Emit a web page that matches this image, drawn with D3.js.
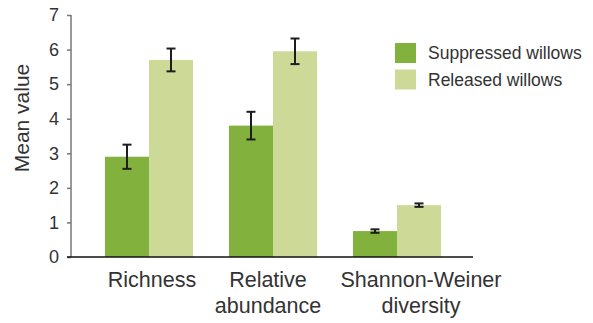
<!DOCTYPE html>
<html>
<head>
<meta charset="utf-8">
<script src="https://cdn.jsdelivr.net/npm/d3@7"></script>
<style>
  html, body { margin: 0; padding: 0; background: #fff; }
  svg { display: block; font-family: "Liberation Sans", Arial, sans-serif; }
</style>
</head>
<body>
<svg id="chart" width="593" height="323"></svg>
<script>
// Categories (multi-line labels) and series
const categories = ["Richness", "Relative abundance", "Shannon-Weiner diversity"];
const categoryLines = [["Richness"], ["Relative", "abundance"], ["Shannon-Weiner", "diversity"]];
const seriesNames = ["Suppressed willows", "Released willows"];
const suppressedMean = [2.9, 3.8, 0.75];
const suppressedErr = [0.35, 0.4, 0.05];
const releasedMean = [5.7, 5.95, 1.5];
const releasedErr = [0.33, 0.37, 0.05];
const yTicks = [0, 1, 2, 3, 4, 5, 6, 7];
const colors = ["#82b23d", "#cdd997"];

const series = [
  { name: seriesNames[0], mean: suppressedMean, err: suppressedErr, color: colors[0] },
  { name: seriesNames[1], mean: releasedMean, err: releasedErr, color: colors[1] }
];

const svg = d3.select("#chart");
const axisLeftX = 71, axisRightX = 473, baseY = 257, topY = 15;

const y = d3.scaleLinear().domain([0, 7]).range([baseY, topY]);
const x0 = d3.scaleBand().domain(categories).range([87, 459])
  .paddingInner(0.29).paddingOuter(0.145);
const x1 = d3.scaleBand().domain(seriesNames).range([0, x0.bandwidth()]);
// horizontal nudges for the category labels (layout only)
const labelNudge = [3, -5, 24];

// Bars
const groups = svg.append("g").selectAll("g")
  .data(series).join("g");

groups.selectAll("rect")
  .data(s => categories.map((c, i) => ({ c, v: s.mean[i], e: s.err[i], s })))
  .join("rect")
  .attr("x", d => x0(d.c) + x1(d.s.name))
  .attr("y", d => y(d.v))
  .attr("width", x1.bandwidth())
  .attr("height", d => y(0) - y(d.v))
  .attr("fill", d => d.s.color);

// Error bars
const capW = 9;
const errs = groups.selectAll("g.err")
  .data(s => categories.map((c, i) => ({ c, v: s.mean[i], e: s.err[i], s })))
  .join("g").attr("class", "err")
  .attr("stroke", "#1d1d1d").attr("stroke-width", 2);
errs.append("line")
  .attr("x1", d => x0(d.c) + x1(d.s.name) + x1.bandwidth() / 2)
  .attr("x2", d => x0(d.c) + x1(d.s.name) + x1.bandwidth() / 2)
  .attr("y1", d => y(d.v + d.e)).attr("y2", d => y(d.v - d.e));
[1, -1].forEach(sign => {
  errs.append("line")
    .attr("x1", d => x0(d.c) + x1(d.s.name) + x1.bandwidth() / 2 - capW / 2)
    .attr("x2", d => x0(d.c) + x1(d.s.name) + x1.bandwidth() / 2 + capW / 2)
    .attr("y1", d => y(d.v + sign * d.e)).attr("y2", d => y(d.v + sign * d.e));
});

// Y axis
const yAxis = svg.append("g")
  .attr("transform", `translate(${axisLeftX},0)`)
  .call(d3.axisLeft(y).tickValues(yTicks).tickFormat(d3.format("d")).tickSize(4).tickPadding(8));
yAxis.select(".domain").attr("stroke", "#777").attr("stroke-width", 1.5)
  .attr("d", `M0,${baseY}V${topY}`);
yAxis.selectAll(".tick line").attr("stroke", "#777").attr("stroke-width", 1.5);
yAxis.selectAll(".tick text")
  .attr("fill", "#333").style("font-size", "18px")
  .style("font-family", "'Liberation Sans', Arial, sans-serif");

// Baseline
svg.append("line")
  .attr("x1", axisLeftX - 4).attr("x2", axisRightX)
  .attr("y1", baseY).attr("y2", baseY)
  .attr("stroke", "#111").attr("stroke-width", 1.5);

// Category labels
svg.append("g").selectAll("text")
  .data(categories)
  .join("text")
  .attr("text-anchor", "middle")
  .attr("fill", "#333")
  .style("font-size", "21.5px")
  .attr("transform", (d, i) => `translate(${x0(d) + x0.bandwidth() / 2 + labelNudge[i]},287)`)
  .selectAll("tspan")
  .data((d, i) => categoryLines[i])
  .join("tspan")
  .attr("x", 0)
  .attr("dy", (d, i) => i === 0 ? 0 : 26)
  .text(d => d);

// Y title
svg.append("text")
  .attr("transform", "translate(29,118) rotate(-90)")
  .attr("text-anchor", "middle")
  .attr("fill", "#333")
  .style("font-size", "21px")
  .text("Mean value");

// Legend
const legend = svg.append("g").attr("transform", "translate(395,43)");
const items = legend.selectAll("g").data(series).join("g")
  .attr("transform", (d, i) => `translate(0,${i * 26.5})`);
items.append("rect").attr("width", 21).attr("height", 20).attr("fill", d => d.color);
items.append("text")
  .attr("x", 33).attr("y", 16)
  .attr("fill", "#333")
  .style("font-size", "17.5px")
  .text(d => d.name);
</script>
</body>
</html>
